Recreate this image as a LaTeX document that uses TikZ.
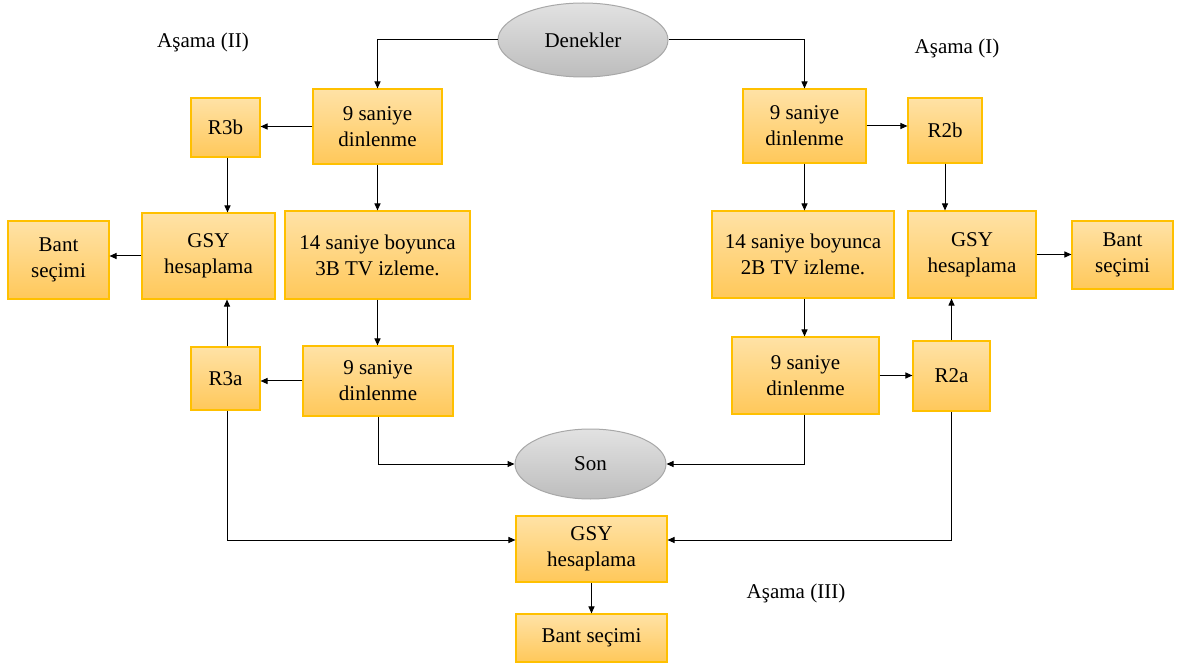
\documentclass[tikz,border=0pt]{standalone}
\usepackage{fontspec}
\setmainfont{Liberation Serif}
\usetikzlibrary{arrows.meta,calc,shapes.geometric}
\definecolor{boxtop}{HTML}{FFE2A6}
\definecolor{boxbot}{HTML}{FFC85A}
\definecolor{boxline}{HTML}{FFC000}
\definecolor{elltop}{HTML}{E2E2E2}
\definecolor{ellbot}{HTML}{BDBDBD}
\definecolor{ellline}{HTML}{A8A8A8}
\tikzset{
  stepbox/.style={rectangle, draw=boxline, line width=1.1pt, top color=boxtop, bottom color=boxbot,
    align=center, inner sep=0pt, font=\fontsize{21}{26}\selectfont},
  endpoint/.style={ellipse, draw=ellline, line width=1pt, top color=elltop, bottom color=ellbot,
    inner sep=0pt, font=\fontsize{21}{26}\selectfont},
  arr/.style={-{Triangle[length=7pt,width=6pt]}, line width=1pt, black},
  stage/.style={font=\fontsize{21}{26}\selectfont}
}
\newcommand{\bx}[5]{\node[stepbox, minimum width=#3pt, minimum height=#4pt] (#1) at #2 {#5};}
\begin{document}
\begin{tikzpicture}[x=1pt,y=-1pt]
\fill[white] (0,0) rectangle (1192,668);
\useasboundingbox (0,0) rectangle (1192,668);

% start and end
\node[endpoint, minimum width=170pt, minimum height=74pt] (den) at (583,40) {Denekler};
\node[endpoint, minimum width=151pt, minimum height=70pt] (son) at (590.5,464) {Son};

% stage II (left)
\bx{l9a}{(377.5,126.5)}{129}{75}{9 saniye\\dinlenme}
\bx{r3b}{(225.5,127.5)}{69}{59}{R3b}
\bx{lgsy}{(208.5,256)}{133}{86}{GSY\\hesaplama}
\bx{lbant}{(58.5,260)}{101}{78}{Bant\\seçimi}
\bx{ltv}{(377.5,255)}{185}{88}{14 saniye boyunca\\3B TV izleme.}
\bx{l9b}{(378,381)}{150}{70}{9 saniye\\dinlenme}
\bx{r3a}{(225.5,378.5)}{69}{63}{R3a}

% stage I (right)
\bx{r9a}{(804.5,126)}{123}{74}{9 saniye\\dinlenme}
\bx{r2b}{(945,130.5)}{74}{65}{R2b}
\bx{rtv}{(803,254.5)}{182}{87}{14 saniye boyunca\\2B TV izleme.}
\bx{rgsy}{(972,254.5)}{128}{87}{GSY\\hesaplama}
\bx{rbant}{(1122.5,255)}{101}{68}{Bant\\seçimi}
\bx{r9b}{(805.5,375.5)}{147}{77}{9 saniye\\dinlenme}
\bx{r2a}{(951.5,376)}{77}{70}{R2a}

% stage III (bottom)
\bx{bgsy}{(591.5,549)}{151}{66}{GSY\\hesaplama}
\bx{bbant}{(591.5,638)}{151}{48}{Bant seçimi}

% stage labels
\node[stage] (s2) at (203,42) {Aşama (II)};
\node[stage] (s1) at (957,48) {Aşama (I)};
\node[stage] (s3) at (796,593) {Aşama (III)};

% connectors
\draw[arr] (den.west) -| (l9a.north);
\draw[arr] (den.east) -| (r9a.north);

\draw[arr] (l9a.west) -- (l9a.west -| r3b.east);
\draw[arr] ([xshift=2pt]r3b.south) -- ([xshift=2pt]r3b.south |- lgsy.north);
\draw[arr] (l9a.south) -- (l9a.south |- ltv.north);
\draw[arr] (ltv.south) -- (ltv.south |- l9b.north);
\draw[arr] (l9b.west) -- (l9b.west -| r3a.east);
\draw[arr] ([xshift=1.5pt]r3a.north) -- ([xshift=1.5pt]r3a.north |- lgsy.south);
\draw[arr] (lgsy.west) -- (lgsy.west -| lbant.east);
\draw[arr] (l9b.south) |- (son.west);
\draw[arr] ([xshift=1.5pt]r3a.south) |- ($(bgsy.west)+(0,-9)$);

\draw[arr] (r9a.east) -- (r9a.east -| r2b.west);
\draw[arr] (r2b.south) -- (r2b.south |- rgsy.north);
\draw[arr] (r9a.south) -- (r9a.south |- rtv.north);
\draw[arr] ([xshift=1.5pt]rtv.south) -- ([xshift=1.5pt]rtv.south |- r9b.north);
\draw[arr] (r9b.east) -- (r9b.east -| r2a.west);
\draw[arr] (r2a.north) -- (r2a.north |- rgsy.south);
\draw[arr] (rgsy.east) -- (rgsy.east -| rbant.west);
\draw[arr] ([xshift=-1.5pt]r9b.south) |- (son.east);
\draw[arr] (r2a.south) |- ($(bgsy.east)+(0,-9)$);

\draw[arr] (bgsy.south) -- (bbant.north);
\end{tikzpicture}
\end{document}
